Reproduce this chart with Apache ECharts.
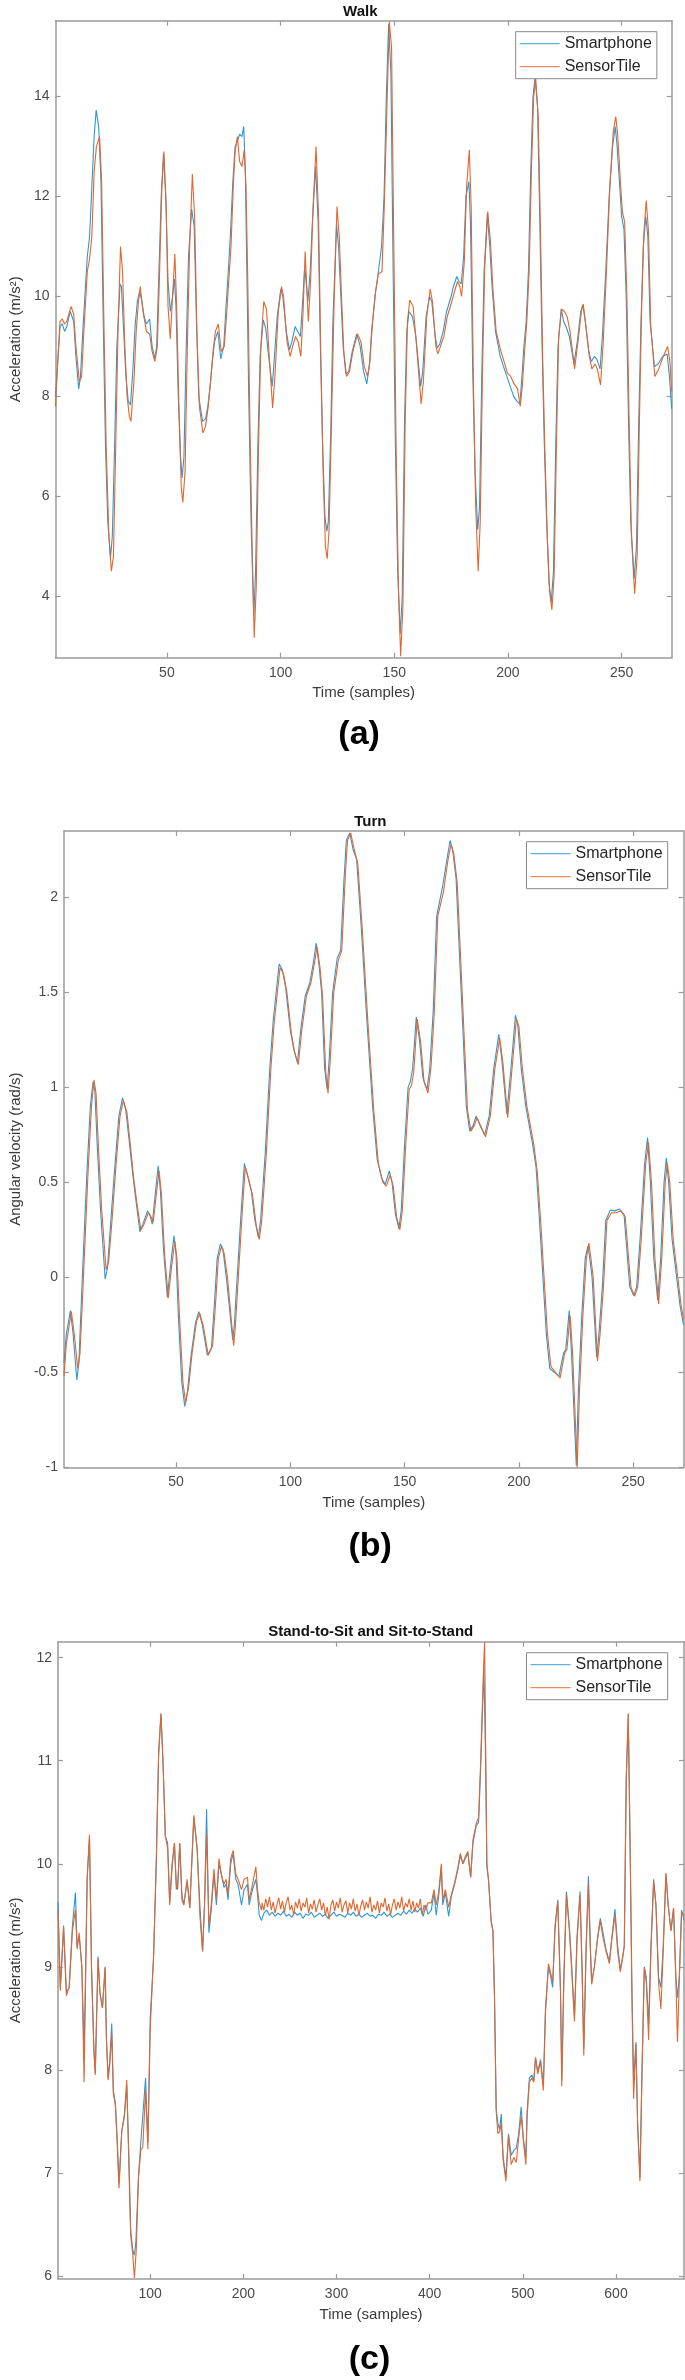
<!DOCTYPE html>
<html>
<head>
<meta charset="utf-8">
<script src="https://cdn.jsdelivr.net/npm/echarts@6/dist/echarts.min.js"></script>
<style>
html,body{margin:0;padding:0;background:#fff;}
#chart{width:685px;height:2380px;}
</style>
</head>
<body>
<div id="chart"></div>
<script>
// ---------- DATA ----------
const seriesNames = ['Smartphone', 'SensorTile'];
const panelTitles = ['Walk', 'Turn', 'Stand-to-Sit and Sit-to-Stand'];
const panelLabels = ['(a)', '(b)', '(c)'];
const yAxisTitles = ['Acceleration (m/s²)', 'Angular velocity (rad/s)', 'Acceleration (m/s²)'];
const xAxisTitle = 'Time (samples)';

const walkXTicks = [50, 100, 150, 200, 250];
const walkYTicks = [4, 6, 8, 10, 12, 14];
const turnXTicks = [50, 100, 150, 200, 250];
const turnYTicks = [-1, -0.5, 0, 0.5, 1, 1.5, 2];
const sitXTicks = [100, 200, 300, 400, 500, 600];
const sitYTicks = [6, 7, 8, 9, 10, 11, 12];

const walkSmartphone = [[1,8.0],[3,9.4],[4,9.45],[5,9.3],[6,9.4],[7.5,9.7],[9,9.5],[10,8.8],[11.2,8.15],[12,8.4],[13,9.3],[15,10.8],[16,11.2],[17,12.2],[18,13.2],[18.9,13.73],[20,13.4],[21,12.3],[22,9.5],[23,7.0],[24,5.5],[25.2,4.77],[26,5.2],[27,7.0],[28,9.0],[29.4,10.25],[30,10.2],[31,9.3],[32,8.4],[33,7.9],[34,7.83],[35,8.5],[36,9.4],[37,9.9],[38,10.1],[39,9.9],[40,9.6],[41,9.45],[42.4,9.55],[43.5,9.0],[44.7,8.75],[45.5,9.0],[46.5,10.5],[47.5,12.0],[48.5,12.85],[49.5,12.0],[50.5,10.3],[51.5,9.7],[52.5,10.0],[53.3,10.35],[54,9.8],[55,8.0],[56,6.8],[56.7,6.37],[57.5,6.8],[58.5,9.0],[59.5,10.8],[60.9,11.75],[62,11.4],[63,9.5],[64,8.0],[65.7,7.5],[67,7.55],[68,7.8],[69,8.2],[70,8.7],[71,9.1],[72.4,9.3],[73.7,8.75],[75,9.0],[76,9.8],[77,10.5],[78,11.3],[79,12.3],[80,13.0],[81,13.1],[82,13.25],[83,13.2],[83.8,13.4],[84.5,12.5],[85,11.0],[86,8.0],[87,5.5],[88.2,3.6],[89,4.5],[90,7.0],[91,8.8],[92.4,9.53],[93.5,9.35],[94.5,8.9],[96.3,8.2],[97,8.6],[98.5,9.6],[100.1,10.15],[101,10.0],[102.5,9.3],[103.9,8.93],[105,9.1],[106.4,9.4],[107.5,9.3],[108.7,9.2],[109.7,9.9],[110.6,10.6],[112,9.9],[113,10.5],[114,11.5],[115.4,12.6],[116.5,11.5],[117.5,9.0],[118.5,7.0],[119.5,5.6],[120.3,5.3],[121,5.5],[122,7.2],[123,9.5],[124.6,11.45],[125.5,11.0],[126.5,10.0],[127.5,9.0],[128.7,8.45],[130,8.5],[131.5,8.9],[133.5,9.25],[135,9.0],[136.5,8.5],[137.9,8.25],[139,8.6],[140,9.3],[141.5,10.0],[143,10.5],[144.4,11.0],[145.5,12.0],[146.5,14.0],[147.5,15.45],[148.5,14.5],[149.5,10.5],[150.5,7.0],[151.5,4.5],[152.6,3.25],[153.5,4.0],[154.5,7.5],[155.5,9.3],[156.5,9.7],[158,9.6],[159.5,9.2],[161.6,8.2],[162.5,8.5],[164,9.6],[165.5,10.0],[166.5,9.9],[168,9.2],[168.9,8.97],[170,9.05],[171.5,9.3],[173,9.7],[175,10.0],[176,10.2],[177.5,10.4],[178.5,10.3],[179.4,10.25],[180.5,10.8],[181.5,12.0],[182.8,12.3],[183.5,11.5],[184.5,8.5],[185.5,6.5],[186.7,5.33],[187.5,5.8],[188.5,8.5],[189.5,10.5],[190.9,11.65],[192,11.0],[193,10.2],[194.5,9.3],[196.6,8.8],[198,8.6],[199.5,8.4],[201,8.2],[202.5,8.0],[204,7.9],[205.2,7.85],[206,8.3],[207,9.0],[208,9.5],[209,10.5],[210,12.5],[211,14.0],[211.9,14.4],[213,13.8],[214,11.5],[215,9.0],[216,7.0],[217,5.5],[218,4.3],[219,3.87],[220,4.5],[221,7.0],[222,9.0],[223.4,9.75],[224.5,9.5],[225.5,9.4],[227,9.2],[229,8.65],[230.5,9.1],[232,9.7],[232.9,9.83],[234,9.5],[235.5,8.9],[236.7,8.7],[238,8.8],[239,8.75],[240.5,8.55],[241.5,9.2],[243,10.5],[244.5,12.0],[246,13.0],[247.2,13.4],[248,13.0],[249,12.3],[250,11.6],[251,11.35],[252,10.0],[253,7.5],[254,5.5],[255.5,4.35],[256.5,5.0],[257.5,7.5],[258.5,9.5],[259.5,11.0],[260.6,11.6],[261.5,11.2],[262.5,9.5],[264.4,8.6],[266,8.65],[268,8.8],[270,8.85],[271,8.4],[272,7.75]];

const walkSensorTile = [[1,7.8],[2,8.7],[3,9.5],[4,9.55],[5,9.45],[6,9.5],[7.8,9.8],[9,9.65],[10,9.0],[11.5,8.3],[12.5,8.4],[13.5,9.3],[15,10.5],[16,10.75],[17,11.2],[18,12.5],[19,13.0],[20.4,13.2],[21.3,12.3],[22.3,9.5],[23.3,7.0],[24.5,5.2],[25.6,4.5],[26.5,4.8],[27.5,7.0],[28.5,9.3],[29.6,11.0],[30.5,10.5],[31.5,9.0],[32.5,8.0],[33.5,7.6],[34.2,7.5],[35.5,8.3],[36.5,9.3],[37.5,9.9],[38.3,10.2],[39.5,9.7],[41,9.3],[42.4,9.25],[43.5,8.9],[44.7,8.7],[45.8,9.0],[46.8,10.5],[47.8,12.2],[48.7,12.9],[49.7,11.8],[50.5,9.8],[51.5,9.15],[52.5,10.0],[53.5,10.85],[54.3,9.8],[55.3,7.8],[56.3,6.2],[57,5.88],[58,6.5],[59,9.0],[60,11.0],[61.2,12.45],[62.2,11.6],[63.2,9.3],[64.3,7.8],[65.8,7.27],[67,7.4],[68.2,7.8],[69.2,8.3],[70.3,8.9],[71.3,9.3],[72.6,9.45],[73.9,8.9],[75.2,9.0],[76.2,9.6],[77.2,10.3],[78.2,11.0],[79.2,12.2],[80,12.9],[81,13.2],[82,12.7],[83,12.6],[84,12.93],[84.8,12.2],[85.5,10.5],[86.5,7.5],[87.5,5.0],[88.4,3.17],[89.3,4.2],[90.3,7.0],[91.3,9.0],[92.6,9.9],[93.8,9.75],[95,8.8],[96.5,7.77],[97.5,8.4],[99,9.7],[100.4,10.2],[101.3,10.0],[102.8,9.1],[104.2,8.8],[105.3,9.0],[106.6,9.2],[107.7,9.1],[108.9,8.8],[109.9,9.7],[110.8,10.9],[112.2,9.5],[113.2,10.3],[114.3,11.8],[115.6,13.0],[116.7,11.6],[117.7,8.8],[118.7,6.5],[119.7,5.0],[120.5,4.75],[121.3,5.3],[122.3,7.3],[123.5,9.8],[124.8,11.8],[125.8,11.2],[126.8,10.0],[127.8,8.9],[129,8.4],[130.3,8.5],[131.8,8.9],[133.8,9.25],[135.3,9.1],[136.8,8.6],[138.2,8.4],[139.3,8.7],[140.3,9.4],[141.8,10.1],[143,10.45],[144.6,10.5],[145.6,11.8],[146.6,13.5],[147.8,15.5],[148.8,15.0],[149.8,11.0],[150.8,7.0],[151.8,4.2],[152.8,2.8],[153.8,3.8],[154.8,7.5],[155.8,9.5],[156.8,9.93],[158.3,9.8],[159.8,9.0],[161.8,7.85],[162.8,8.3],[164.3,9.6],[165.8,10.15],[166.8,9.9],[168.3,9.0],[169.2,8.85],[170.3,9.0],[171.8,9.2],[173.3,9.6],[175.3,9.9],[176.5,10.1],[177.8,10.3],[178.8,10.2],[179.6,10.0],[180.8,10.7],[181.8,12.2],[183,12.93],[183.8,11.8],[184.8,8.3],[185.8,5.8],[186.9,4.5],[187.8,5.5],[188.8,8.5],[189.8,10.6],[191.1,11.7],[192.3,11.1],[193.3,10.2],[194.8,9.3],[196.6,8.95],[197.6,8.8],[199.7,8.47],[201.2,8.4],[202.7,8.25],[204.2,8.15],[205.4,7.8],[206.3,8.2],[207.3,8.9],[208.3,9.5],[209.3,10.5],[210.3,12.5],[211.3,14.0],[212.2,14.35],[213.3,13.6],[214.3,11.3],[215.3,8.7],[216.3,6.8],[217.3,5.2],[218.3,4.1],[219.3,3.73],[220.3,4.4],[221.3,7.0],[222.3,9.2],[223.6,9.75],[224.8,9.7],[226,9.6],[227.3,9.3],[229.3,8.55],[230.8,9.1],[232.3,9.7],[233.1,9.85],[234.3,9.4],[235.8,8.8],[236.9,8.55],[238.3,8.65],[239.3,8.55],[240.7,8.23],[241.8,9.0],[243.3,10.5],[244.8,12.2],[246.3,13.3],[247.4,13.6],[248.3,13.2],[249.3,12.4],[250.3,11.7],[251.3,11.5],[252.3,10.0],[253.3,7.5],[254.3,5.2],[255.7,4.05],[256.8,4.8],[257.8,7.5],[258.8,9.8],[259.8,11.3],[260.8,11.92],[261.8,11.3],[262.8,9.4],[264.6,8.4],[266.3,8.55],[268.3,8.8],[270.2,9.0],[271.2,8.7],[272,8.1]];

const turnSmartphone = [[1,-0.45],[2,-0.3],[3.8,-0.175],[5,-0.3],[6.6,-0.54],[7.5,-0.45],[9,0.0],[11,0.55],[12.5,0.9],[13.7,1.03],[14.5,0.98],[15.5,0.7],[17,0.35],[19,-0.01],[20,0.05],[21.5,0.3],[23,0.55],[25,0.85],[26.6,0.945],[28,0.88],[29.5,0.72],[31,0.55],[32.5,0.4],[34.2,0.24],[35.5,0.28],[37.5,0.35],[38.5,0.33],[39.6,0.28],[41,0.45],[42.2,0.587],[43.2,0.45],[44.5,0.15],[46.2,-0.105],[47.5,0.05],[49.1,0.22],[50,0.12],[51,-0.2],[52.5,-0.55],[53.8,-0.68],[55,-0.6],[56.5,-0.42],[58.5,-0.24],[60,-0.18],[61.5,-0.25],[63.7,-0.41],[65.5,-0.37],[67,-0.1],[68,0.1],[69.4,0.175],[70.5,0.15],[72,0.0],[74.8,-0.33],[75.5,-0.25],[77,0.05],[78.5,0.35],[79.9,0.6],[81,0.55],[83,0.45],[84.5,0.3],[86,0.21],[87,0.3],[89,0.65],[91,1.1],[92.5,1.35],[95.1,1.65],[96.5,1.62],[98,1.52],[100,1.3],[101.5,1.2],[103.1,1.13],[104.5,1.3],[106.5,1.48],[108.5,1.55],[110,1.65],[111.3,1.76],[112.5,1.65],[113.7,1.5],[115,1.1],[116.1,0.99],[117,1.15],[118.5,1.5],[120.5,1.68],[122,1.72],[123.5,2.1],[124.5,2.3],[126,2.34],[127.5,2.25],[129,2.2],[131,1.85],[133.5,1.35],[136,0.9],[138,0.62],[140,0.52],[141.5,0.49],[143.3,0.56],[144.5,0.5],[146,0.33],[147.5,0.257],[148.5,0.35],[150,0.7],[151.5,1.0],[152.5,1.03],[153.5,1.1],[155.1,1.37],[156.5,1.25],[158,1.05],[159.8,0.99],[161,1.1],[162.5,1.4],[164,1.9],[166.5,2.05],[168.5,2.2],[169.9,2.3],[171,2.25],[172.5,2.1],[174,1.7],[175.5,1.3],[177,0.9],[178.5,0.77],[180,0.8],[181.3,0.85],[183,0.8],[185,0.75],[187,0.85],[189,1.1],[191.2,1.28],[192.5,1.15],[194.7,0.86],[196.5,1.1],[198.5,1.38],[199.5,1.33],[201,1.1],[203,0.9],[204.5,0.8],[206,0.7],[207.5,0.58],[209,0.3],[210.5,0.0],[212,-0.3],[213.5,-0.48],[215.5,-0.5],[217.5,-0.52],[219.5,-0.4],[220.5,-0.38],[222,-0.175],[223,-0.4],[225.1,-0.99],[226,-0.6],[227.5,-0.2],[229,0.1],[230.2,0.166],[231,0.1],[232,0.0],[234,-0.42],[235,-0.3],[236.5,-0.05],[238,0.3],[240,0.355],[242,0.35],[244,0.36],[246,0.33],[247.5,0.1],[248.5,-0.05],[250.2,-0.096],[251.5,-0.05],[253,0.2],[255,0.6],[256.3,0.736],[257.5,0.5],[259,0.1],[260.7,-0.12],[262,0.1],[263.5,0.5],[264.5,0.63],[265.5,0.5],[267,0.2],[269,0.0],[270.5,-0.15],[272,-0.25]];

const turnSensorTile = [[1,-0.52],[2,-0.35],[4.2,-0.18],[5.5,-0.3],[7,-0.48],[8,-0.4],[9.5,0.0],[11.5,0.55],[13,0.9],[14.1,1.04],[15,0.97],[16,0.7],[17.5,0.35],[19.4,0.04],[20.5,0.08],[22,0.3],[23.5,0.55],[25.5,0.85],[27,0.93],[28.5,0.87],[30,0.7],[31.5,0.52],[33,0.38],[34.6,0.25],[36,0.28],[37.9,0.34],[39,0.32],[40,0.29],[41.5,0.45],[42.6,0.56],[43.6,0.44],[45,0.12],[46.6,-0.11],[48,0.05],[49.5,0.19],[50.4,0.1],[51.5,-0.2],[53,-0.55],[54.2,-0.66],[55.5,-0.58],[57,-0.4],[59,-0.23],[60.4,-0.19],[62,-0.26],[64.1,-0.41],[66,-0.36],[67.5,-0.1],[68.5,0.1],[69.8,0.16],[71,0.13],[72.5,0.0],[75.2,-0.36],[76,-0.25],[77.5,0.05],[79,0.35],[80.3,0.58],[81.5,0.53],[83.5,0.43],[85,0.28],[86.4,0.2],[87.5,0.3],[89.5,0.65],[91.5,1.1],[93,1.35],[95.5,1.63],[97,1.6],[98.5,1.5],[100.5,1.28],[102,1.18],[103.5,1.12],[105,1.3],[107,1.48],[109,1.55],[110.5,1.65],[111.7,1.74],[113,1.63],[114.1,1.48],[115.5,1.08],[116.5,0.97],[117.5,1.15],[119,1.5],[121,1.67],[122.5,1.72],[124,2.1],[125,2.3],[126.4,2.34],[128,2.25],[129.5,2.18],[131.5,1.83],[134,1.33],[136.5,0.88],[138.5,0.6],[140.5,0.5],[142,0.48],[143.7,0.54],[145,0.48],[146.5,0.32],[147.9,0.25],[149,0.35],[150.5,0.7],[152,0.99],[153,1.01],[154,1.08],[155.5,1.36],[157,1.24],[158.5,1.03],[160.2,0.97],[161.5,1.1],[163,1.4],[164.5,1.9],[167,2.03],[169,2.2],[170.3,2.28],[171.5,2.23],[173,2.08],[174.5,1.68],[176,1.28],[177.5,0.88],[179,0.77],[180.5,0.8],[181.7,0.84],[183.5,0.79],[185.4,0.74],[187.5,0.85],[189.5,1.1],[191.6,1.26],[193,1.13],[195.1,0.84],[197,1.1],[198.9,1.36],[200,1.32],[201.5,1.1],[203.5,0.9],[205,0.8],[206.5,0.7],[208,0.56],[209.5,0.3],[211,0.0],[212.5,-0.3],[214,-0.47],[216,-0.5],[218,-0.53],[220,-0.4],[221,-0.38],[222.4,-0.2],[223.5,-0.4],[225.5,-1.0],[226.5,-0.6],[228,-0.2],[229.5,0.1],[230.6,0.18],[231.5,0.1],[232.5,0.0],[234.4,-0.44],[235.5,-0.3],[237,-0.05],[238.5,0.3],[240.5,0.34],[242.5,0.34],[244.5,0.35],[246.5,0.32],[248,0.1],[249,-0.05],[250.6,-0.1],[252,-0.05],[253.5,0.2],[255.5,0.6],[256.7,0.71],[258,0.5],[259.5,0.1],[261.1,-0.14],[262.5,0.1],[264,0.5],[264.9,0.6],[266,0.5],[267.5,0.2],[269.5,0.0],[271,-0.15],[272,-0.22]];

const sitSmartphoneStart = [[1,9.63],[3.5,8.8],[7,9.4],[10,8.75],[13,8.8],[16.5,9.4],[19.7,9.72],[21.5,9.2],[23.7,9.3],[26.6,9.0],[29,8.17],[32.3,9.85],[34.8,10.25],[37,9.0],[39.5,8.2],[41,7.97],[42.4,8.5],[44,9.1],[46,8.75],[48.7,8.6],[51.6,9.0],[53,8.3],[54.8,7.92],[56.6,8.1],[58.7,8.45],[60.4,7.8],[62.6,7.68],[64.7,7.3],[66.5,6.9],[69.4,7.4],[72.3,7.55],[74.8,7.85],[77,7.2],[79,6.45],[81.3,6.25],[83,6.2],[84.6,6.33],[87.4,6.97],[89.9,7.3],[92,7.3],[95,7.92],[97.5,7.3],[100,8.5],[103.6,9.1],[106.5,10.0],[109,11.05],[111.5,11.45],[113.7,11.0],[116.2,10.27],[118.7,10.2],[120.9,9.62],[123.4,9.95],[126,10.2],[128,9.8],[129.5,9.75],[131.7,10.2],[134,9.7],[136,9.6],[139.6,9.83],[142.5,9.57],[146.8,10.45],[150.4,10.13],[153.3,9.6],[156.2,9.15],[158.3,9.6],[160.5,10.53],[163,9.33],[165.5,9.55],[168.4,9.9],[171,9.6],[173.8,10.0],[176.3,9.9],[179.2,9.77],[181.4,9.8],[183.5,9.65],[186.4,10.0],[189,10.1],[191.8,9.85],[194.3,9.8],[198,9.6],[200.8,9.75],[204.4,9.8],[206.2,9.6],[209.8,9.75],[213.4,9.85],[215.2,9.7],[217,9.5],[219.5,9.45]];
const sitSmartphoneMiddle = [[222,9.52],[225,9.55],[228,9.5],[231,9.53],[234,9.49],[237,9.52],[240,9.5],[243,9.54],[246,9.49],[249,9.51],[252,9.48],[255,9.53],[258,9.5],[261,9.52],[264,9.47],[267,9.51],[270,9.5],[273,9.53],[276,9.48],[279,9.5],[282,9.52],[285,9.49],[288,9.51],[291,9.47],[294,9.5],[297,9.53],[300,9.49],[303,9.51],[306,9.5],[309,9.48],[312,9.52],[315,9.5],[318,9.53],[321,9.49],[324,9.51],[327,9.48],[330,9.5],[333,9.52],[336,9.49],[339,9.5],[342,9.47],[345,9.51],[348,9.5],[351,9.53],[354,9.49],[357,9.51],[360,9.48],[363,9.5],[366,9.52],[369,9.5],[372,9.54],[375,9.51],[378,9.55],[381,9.52],[384,9.56],[387,9.53],[390,9.57],[393,9.49],[396,9.6],[398,9.51]];
const sitSmartphoneEnd = [[401.8,9.55],[404.6,9.72],[407,9.5],[409.6,9.68],[412.5,9.97],[414,9.6],[416.8,9.72],[420.4,9.49],[423.2,9.68],[426.8,9.8],[430.4,9.95],[432.9,10.08],[435.7,10.0],[438.2,10.05],[441,10.1],[444,9.87],[446.4,10.2],[450,10.37],[452.5,10.4],[454.6,10.9],[456.4,11.4],[458.2,11.9],[460,11.0],[461.4,9.97],[463.2,9.83],[466,9.45],[467.9,9.35],[469.6,8.7],[471.4,7.62],[473.2,7.48],[475,7.42],[476.8,7.57],[478.9,7.15],[481.8,6.96],[484.6,7.38],[487.5,7.17],[490.4,7.22],[492.9,7.24],[495.4,7.37],[498.2,7.64],[500.7,7.32],[503.2,7.15],[504.6,7.6],[507,7.92],[509.6,7.95],[511.8,7.9],[513.6,8.12],[516,7.98],[519,8.1],[522,7.85],[524.3,8.6],[527.5,9.0],[529.6,8.92],[532,8.8],[534.6,9.4],[537.5,9.65],[540.4,8.8],[541.8,7.9],[544,8.9],[546.8,9.73],[550,9.38],[552.5,9.0],[555.4,8.52],[558.2,9.3],[561.4,9.73],[563.6,9.0],[565.4,8.2],[567.9,9.2],[570.4,9.88],[572.5,9.2],[573.9,8.85],[576.8,9.0],[580.4,9.3],[583.2,9.47],[585.7,9.35],[589.3,9.17],[592.9,9.05],[595.7,9.3],[598.9,9.56],[601.8,9.2],[604.6,8.97],[607.1,9.1],[608.9,9.2],[611,10.8],[613.2,11.45],[615.4,10.0],[617.1,8.8],[618.9,7.9],[621.4,8.27],[623.2,7.5],[625.7,6.95],[627.9,8.0],[630.4,9.0],[632.5,8.9],[635,8.45],[637.5,9.2],[640.4,9.85],[642.9,9.6],[645.7,8.9],[648.2,8.8],[650.7,9.2],[653.6,9.9],[656,9.6],[659,9.35],[661.8,9.57],[664.3,8.9],[666,8.7],[667.9,8.9],[670.4,9.55],[673,9.45]];

const sitSensorTileStart = [[1,9.55],[3.5,8.77],[7,9.38],[10,8.72],[13,8.8],[16.5,9.35],[19.7,9.55],[21.5,9.17],[23.7,9.33],[26.6,9.0],[29,7.88],[32.3,9.87],[34.8,10.28],[37,8.97],[39.5,8.2],[41,7.95],[42.4,8.5],[44,9.08],[46,8.75],[48.7,8.6],[51.6,8.99],[53,8.3],[54.8,7.9],[56.6,8.05],[58.7,8.35],[60.4,7.77],[62.6,7.65],[64.7,7.25],[66.5,6.85],[69.4,7.4],[72.3,7.57],[74.8,7.9],[77,7.1],[79,6.4],[81.3,6.2],[83,5.98],[85,6.25],[87.4,6.95],[89.9,7.22],[92,7.25],[95,7.8],[97.5,7.23],[100,8.4],[103.6,9.1],[106.5,10.03],[109,11.07],[111.5,11.46],[113.7,11.0],[116.2,10.27],[118.7,10.15],[120.9,9.6],[123.4,10.0],[126,10.2],[128,9.75],[129.5,9.8],[131.7,10.2],[134,9.65],[136,9.6],[139.6,9.85],[142.5,9.57],[146.8,10.47],[150.4,10.15],[153.3,9.5],[156.2,9.15],[158.3,9.6],[160.5,10.3],[163,9.4],[165.5,9.6],[168.4,9.95],[171,9.65],[173.8,10.05],[176.3,9.9],[179.2,9.8],[181.4,9.85],[183.5,9.7],[186.4,10.05],[189,10.13],[191.8,9.9],[194.3,9.85],[198,9.75],[200.8,9.85],[204.4,9.87],[206.2,9.65],[209.8,9.8],[213.4,9.97],[215.2,9.75],[217,9.62],[219.5,9.55]];
const sitSensorTileMiddle = [[220,9.62],[222,9.55],[224,9.66],[226,9.58],[228,9.68],[230,9.55],[232,9.63],[234,9.52],[236,9.6],[238,9.67],[240,9.56],[242,9.64],[244,9.53],[246,9.62],[248,9.68],[250,9.55],[252,9.6],[254,9.5],[256,9.63],[258,9.57],[260,9.66],[262,9.54],[264,9.62],[266,9.58],[268,9.67],[270,9.52],[272,9.61],[274,9.56],[276,9.65],[278,9.53],[280,9.6],[282,9.66],[284,9.55],[286,9.62],[288,9.5],[290,9.58],[292,9.46],[294,9.6],[296,9.65],[298,9.54],[300,9.63],[302,9.57],[304,9.67],[306,9.53],[308,9.6],[310,9.64],[312,9.52],[314,9.62],[316,9.56],[318,9.66],[320,9.54],[322,9.61],[324,9.5],[326,9.59],[328,9.65],[330,9.55],[332,9.63],[334,9.57],[336,9.68],[338,9.53],[340,9.6],[342,9.55],[344,9.64],[346,9.52],[348,9.62],[350,9.58],[352,9.67],[354,9.54],[356,9.61],[358,9.5],[360,9.6],[362,9.66],[364,9.55],[366,9.63],[368,9.57],[370,9.68],[372,9.54],[374,9.62],[376,9.58],[378,9.66],[380,9.55],[382,9.64],[384,9.53],[386,9.62],[388,9.57],[390,9.66],[392,9.5],[394,9.6],[396,9.55],[398,9.62]];
const sitSensorTileEnd = [[401.8,9.62],[404.6,9.75],[407,9.6],[409.6,9.72],[412.5,10.0],[414,9.65],[416.8,9.75],[420.4,9.58],[423.2,9.7],[426.8,9.82],[430.4,9.97],[432.9,10.1],[435.7,10.0],[438.2,10.07],[441,10.12],[444,9.87],[446.4,10.23],[450,10.39],[452.5,10.45],[454.6,10.96],[456.4,11.5],[458.2,12.0],[459,12.15],[460,11.2],[461.4,10.0],[463.2,9.85],[466,9.43],[467.9,9.35],[469.6,8.7],[471.4,7.6],[473.2,7.38],[475,7.4],[476.8,7.48],[478.9,7.12],[481.8,6.92],[484.6,7.36],[487.5,7.08],[490.4,7.15],[492.9,7.1],[495.4,7.33],[498.2,7.55],[500.7,7.3],[503.2,7.08],[504.6,7.55],[507,7.88],[509.6,7.92],[511.8,7.88],[513.6,8.12],[516,7.96],[519,8.08],[522,7.8],[524.3,8.55],[527.5,9.03],[529.6,8.95],[532,8.85],[534.6,9.38],[537.5,9.63],[540.4,8.75],[541.8,7.84],[544,8.85],[546.8,9.7],[550,9.35],[552.5,8.95],[555.4,8.47],[558.2,9.25],[561.4,9.7],[563.6,8.95],[565.4,8.14],[567.9,9.15],[570.4,9.8],[572.5,9.15],[573.9,8.83],[576.8,9.0],[580.4,9.28],[583.2,9.45],[585.7,9.3],[589.3,9.15],[592.9,9.03],[595.7,9.28],[598.9,9.5],[601.8,9.15],[604.6,8.95],[607.1,9.08],[608.9,9.2],[611,10.85],[613.2,11.46],[615.4,10.0],[617.1,8.7],[618.9,7.72],[621.4,8.25],[623.2,7.45],[625.7,6.92],[627.9,7.95],[630.4,8.99],[632.5,8.85],[635,8.29],[637.5,9.15],[640.4,9.83],[642.9,9.6],[645.7,8.85],[648.2,8.59],[650.7,9.15],[653.6,9.91],[656,9.6],[659,9.35],[661.8,9.57],[664.3,8.85],[666,8.27],[667.9,8.85],[670.4,9.53],[673,9.5]];

// ---------- CHART ----------
const COLORS = ['#2f95d6', '#e0672f'];
const AXIS_COLOR = '#9a9a9a';
const LABEL_COLOR = '#4a4a4a';
const FONT = 'Liberation Sans, Arial, Helvetica, sans-serif';

const panels = [
  { grid: {left: 49, top: 20.7, width: 622.7, height: 637},
    xMin: 1, xMax: 272, yMin: 2.77, yMax: 15.52, xTicks: walkXTicks, yTicks: walkYTicks,
    data: [walkSmartphone, walkSensorTile], legendPos: {left: 515.7, top: 31.7},
    titleTop: 4, yNameGap: 29, labelY: 738 },
  { grid: {left: 57.3, top: 831, width: 626.2, height: 636.3},
    xMin: 1, xMax: 272, yMin: -1.0, yMax: 2.35, xTicks: turnXTicks, yTicks: turnYTicks,
    data: [turnSmartphone, turnSensorTile], legendPos: {left: 526.5, top: 841.7},
    titleTop: 814, yNameGap: 36, labelY: 1550 },
  { grid: {left: 57.5, top: 1641.7, width: 626.5, height: 637.3},
    xMin: 1, xMax: 673, yMin: 5.97, yMax: 12.155, xTicks: sitXTicks, yTicks: sitYTicks,
    data: [sitSmartphoneStart.concat(sitSmartphoneMiddle, sitSmartphoneEnd),
           sitSensorTileStart.concat(sitSensorTileMiddle, sitSensorTileEnd)],
    legendPos: {left: 526.5, top: 1652.7},
    titleTop: 1624, yNameGap: 35, labelY: 2363 }
];

const option = {
  animation: false,
  backgroundColor: '#ffffff',
  textStyle: { fontFamily: FONT },
  grid: [], xAxis: [], yAxis: [], series: [], title: [], legend: [], graphic: []
};

panels.forEach((p, i) => {
  option.grid.push(Object.assign({ containLabel: false }, p.grid));
  const cx = p.grid.left + p.grid.width / 2;
  option.xAxis.push({
    type: 'value', gridIndex: i, position: 'bottom', min: p.xMin, max: p.xMax,
    name: xAxisTitle, nameLocation: 'middle', nameGap: 28,
    nameTextStyle: { fontSize: 15, color: '#3a3a3a', fontFamily: FONT },
    axisLine: { show: true, onZero: false, lineStyle: { color: AXIS_COLOR, width: 1.5 } },
    axisTick: { show: true, inside: true, length: 5, customValues: p.xTicks, lineStyle: { color: AXIS_COLOR, width: 1.2 } },
    axisLabel: { show: true, customValues: p.xTicks, fontSize: 14, color: LABEL_COLOR, margin: 8, fontFamily: FONT },
    splitLine: { show: false }
  });
  option.xAxis.push({
    type: 'value', gridIndex: i, position: 'top', min: p.xMin, max: p.xMax,
    axisLine: { show: true, onZero: false, lineStyle: { color: AXIS_COLOR, width: 1.5 } },
    axisTick: { show: true, inside: true, length: 5, customValues: p.xTicks, lineStyle: { color: AXIS_COLOR, width: 1.2 } },
    axisLabel: { show: false, customValues: p.xTicks },
    splitLine: { show: false }
  });
  option.yAxis.push({
    type: 'value', gridIndex: i, position: 'left', min: p.yMin, max: p.yMax,
    name: yAxisTitles[i], nameLocation: 'middle', nameGap: p.yNameGap, nameRotate: 90,
    nameTextStyle: { fontSize: 15, color: '#3a3a3a', fontFamily: FONT },
    axisLine: { show: true, onZero: false, lineStyle: { color: AXIS_COLOR, width: 1.5 } },
    axisTick: { show: true, inside: true, length: 5, customValues: p.yTicks, lineStyle: { color: AXIS_COLOR, width: 1.2 } },
    axisLabel: { show: true, customValues: p.yTicks, fontSize: 14, color: LABEL_COLOR, margin: 6, fontFamily: FONT },
    splitLine: { show: false }
  });
  option.yAxis.push({
    type: 'value', gridIndex: i, position: 'right', min: p.yMin, max: p.yMax,
    axisLine: { show: true, onZero: false, lineStyle: { color: AXIS_COLOR, width: 1.5 } },
    axisTick: { show: true, inside: true, length: 5, customValues: p.yTicks, lineStyle: { color: AXIS_COLOR, width: 1.2 } },
    axisLabel: { show: false, customValues: p.yTicks },
    splitLine: { show: false }
  });
  seriesNames.forEach((nm, k) => {
    option.series.push({
      name: nm, type: 'line', xAxisIndex: i * 2, yAxisIndex: i * 2,
      data: p.data[k], showSymbol: false, symbol: 'none', smooth: false,
      lineStyle: { color: COLORS[k], width: 1.1 }, itemStyle: { color: COLORS[k] },
      z: 2 + k
    });
  });
  option.title.push({
    text: panelTitles[i], left: cx, top: p.titleTop, textAlign: 'center', padding: 0,
    textStyle: { fontSize: 15, fontWeight: 'bold', color: '#111', fontFamily: FONT }
  });
  option.legend.push({
    data: seriesNames.map((nm, k) => ({ name: nm, icon: 'rect', itemStyle: { color: COLORS[k], opacity: 0.75 } })),
    orient: 'vertical', left: p.legendPos.left, top: p.legendPos.top,
    itemWidth: 40, itemHeight: 1.3, itemGap: 7, padding: [4, 5, 4, 4],
    borderColor: '#8a8a8a', borderWidth: 1, backgroundColor: '#ffffff',
    selectedMode: false, z: 10,
    textStyle: { fontSize: 16, color: '#262626', fontFamily: FONT, lineHeight: 16 }
  });
  option.graphic.push({
    type: 'text', left: cx - 22, top: p.labelY - 20,
    style: { text: panelLabels[i], font: 'bold 34px ' + FONT, fill: '#000' }
  });
});

const chart = echarts.init(document.getElementById('chart'), null, { renderer: 'canvas', width: 685, height: 2380 });
chart.setOption(option);
</script>
</body>
</html>
